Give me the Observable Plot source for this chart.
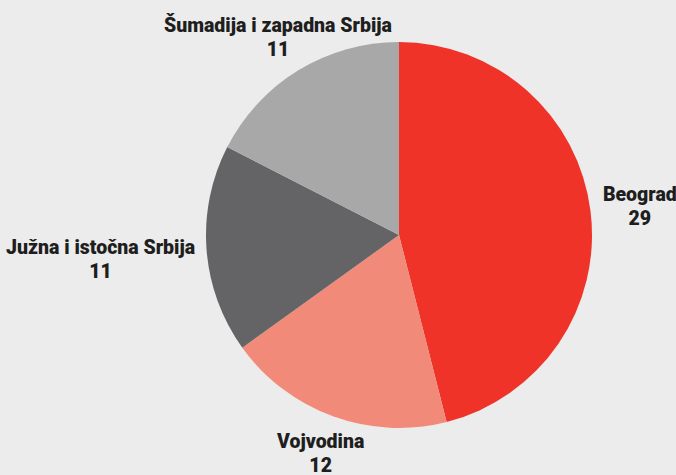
<!DOCTYPE html>
<html><head><meta charset="utf-8">
<script src="https://cdn.jsdelivr.net/npm/d3@7"></script>
<script src="https://cdn.jsdelivr.net/npm/@observablehq/plot@0.6"></script>
<style>body{margin:0;background:#ebeceb;}</style>
</head><body><div id="chart"></div>
<script>
// Data
const regions = ["Beograd", "Vojvodina", "Južna i istočna Srbija", "Šumadija i zapadna Srbija"];
const counts = [29, 12, 11, 11];
const colors = ["#ef3329", "#f28a7a", "#646466", "#a7a8a7"];

// Layout
const W = 676, H = 475, cx = 399, cy = 235, R = 193, labelGap = 12;
const fontSize = 19.5, lineH = 24, fontWeight = 900;
const fontFamily = "Roboto";

const data = regions.map((name, i) => ({name, value: counts[i]}));
const arcs = d3.pie().sort(null).value(d => d.value)(data);

const ctx = document.createElement("canvas").getContext("2d");
ctx.font = `${fontWeight} ${fontSize}px ${fontFamily}`;
const labels = arcs.map(a => {
  const mid = (a.startAngle + a.endAngle) / 2, s = Math.sin(mid), c = Math.cos(mid);
  const lines = [a.data.name, String(a.data.value)];
  const hw = d3.max(lines, l => ctx.measureText(l).width) / 2;
  const hh = lines.length * lineH / 2;
  const t = Math.min(Math.abs(s) > 1e-6 ? hw / Math.abs(s) : Infinity,
                     Math.abs(c) > 1e-6 ? hh / Math.abs(c) : Infinity);
  const r = (R + labelGap + t) / R;
  return {x: r * s, y: r * c, text: lines.join("\n")};
});

const chart = Plot.plot({
  width: W, height: H, margin: 0,
  style: {background: "#ebeceb", fontFamily},
  x: {domain: [-cx / R, (W - cx) / R], range: [0, W], axis: null},
  y: {domain: [-(H - cy) / R, cy / R], range: [H, 0], axis: null},
  marks: [
    (index, scales) => {
      const x0 = scales.x(0), y0 = scales.y(0), rr = scales.x(1) - scales.x(0);
      const arc = d3.arc().innerRadius(0).outerRadius(rr);
      const g = d3.create("svg:g").attr("transform", `translate(${x0},${y0})`);
      g.selectAll("path").data(arcs).join("path")
        .attr("d", arc).attr("fill", d => colors[d.index]);
      return g.node();
    },
    Plot.text(labels, {
      x: "x", y: "y", text: "text", fontSize, fontWeight,
      lineHeight: lineH / fontSize, fill: "#1e1e1e",
      textAnchor: "middle", lineAnchor: "middle"
    })
  ]
});
document.getElementById("chart").append(chart);
</script>
</body></html>
